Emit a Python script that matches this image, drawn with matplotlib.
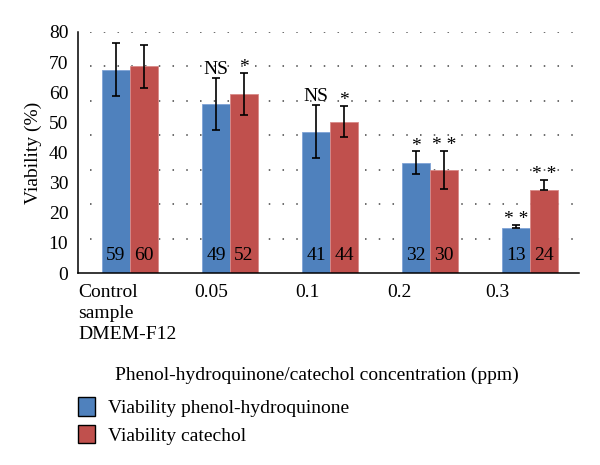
import numpy as np
import matplotlib
matplotlib.use("Agg")
import matplotlib.pyplot as plt
from matplotlib.patches import Patch
from matplotlib.transforms import blended_transform_factory

plt.rcParams['font.family'] = ['Liberation Serif', 'DejaVu Serif']

# ---------------- data ----------------
categories = ["Control\nsample\nDMEM-F12", "0.05", "0.1", "0.2", "0.3"]
phenol = [59, 49, 41, 32, 13]
catechol = [60, 52, 44, 30, 24]
phenol_err_up = [7.7, 7.5, 7.7, 3.3, 0.9]
phenol_err_lo = [7.7, 7.5, 7.7, 3.3, 0.0]
catechol_err_up = [6.2, 6.0, 4.6, 5.5, 3.0]
catechol_err_lo = [6.2, 6.0, 4.6, 5.5, 0.0]
phenol_sig = ["", "NS", "NS", "*", "* *"]
catechol_sig = ["", "*", "*", "* *", "* *"]
ytick_labels = ["0", "10", "20", "30", "40", "50", "60", "70", "80"]
grid_vals = [10, 20, 30, 40, 50, 60, 70]

blue = '#4F81BD'
red = '#C0504D'
fs = 14

fig = plt.figure(figsize=(6, 4.65), dpi=100)
ax = fig.add_axes([0.13, 0.4129, 0.835, 0.5183])

x = np.arange(len(categories))
w = 0.28

ax.hlines(grid_vals, -0.4, 4.49, colors='#444444', linestyles=(0, (1, 8)), linewidth=1.1, zorder=0)

ax.bar(x - w / 2, phenol, w, color=blue, edgecolor='#7FA3D6', linewidth=0.6, zorder=2)
ax.bar(x + w / 2, catechol, w, color=red, edgecolor='#D98A88', linewidth=0.6, zorder=2)
ax.errorbar(x - w / 2, phenol, yerr=[phenol_err_lo, phenol_err_up], fmt='none',
            ecolor='black', elinewidth=1.2, capsize=3.2, capthick=1.2, zorder=3)
ax.errorbar(x + w / 2, catechol, yerr=[catechol_err_lo, catechol_err_up], fmt='none',
            ecolor='black', elinewidth=1.2, capsize=3.2, capthick=1.2, zorder=3)

for i in range(len(categories)):
    ax.text(x[i] - w / 2, 5, str(phenol[i]), ha='center', va='center', fontsize=fs, zorder=4)
    ax.text(x[i] + w / 2, 5, str(catechol[i]), ha='center', va='center', fontsize=fs, zorder=4)
    if phenol_sig[i]:
        off = 0.2 if phenol_sig[i] == "NS" else -0.9
        ax.text(x[i] - w / 2, phenol[i] + phenol_err_up[i] + off, phenol_sig[i],
                ha='center', va='bottom', fontsize=fs)
    if catechol_sig[i]:
        ax.text(x[i] + w / 2, catechol[i] + catechol_err_up[i] - 0.9, catechol_sig[i],
                ha='center', va='bottom', fontsize=fs)

ax.set_xlim(-0.52, 4.49)
ax.set_ylim(0, 70)
ax.set_yticks(np.linspace(0, 70, 9))
ax.set_yticklabels(ytick_labels, fontsize=fs)
ax.tick_params(axis='y', length=0, pad=7)
ax.set_xticks([])
for s in ['top', 'right']:
    ax.spines[s].set_visible(False)
ax.spines['left'].set_linewidth(1.1)
ax.spines['bottom'].set_linewidth(1.1)

# category labels under the axis
tr = blended_transform_factory(ax.transData, ax.transAxes)
label_x = [-0.52, 0.81, 1.77, 2.69, 3.675]
label_ha = ['left', 'center', 'center', 'center', 'center']
for lx, lab, ha in zip(label_x, categories, label_ha):
    ax.text(lx, -0.045, lab, transform=tr, ha=ha, va='top', fontsize=fs, linespacing=1.3)

fig.text(0.528, 1 - 375 / 465, "Phenol-hydroquinone/catechol concentration (ppm)",
         ha='center', va='center', fontsize=fs)
ax.set_ylabel("Viability (%)", fontsize=fs, labelpad=5)

handles = [Patch(facecolor=blue, edgecolor='black', linewidth=1),
           Patch(facecolor=red, edgecolor='black', linewidth=1)]
fig.legend(handles, ["Viability phenol-hydroquinone", "Viability catechol"],
           loc='upper left', bbox_to_anchor=(0.13, 1 - 397 / 465), frameon=False,
           fontsize=fs, handlelength=0.85, handleheight=1.1, handletextpad=0.7,
           labelspacing=0.4, borderpad=0, borderaxespad=0)

fig.savefig("out.png", dpi=100)
